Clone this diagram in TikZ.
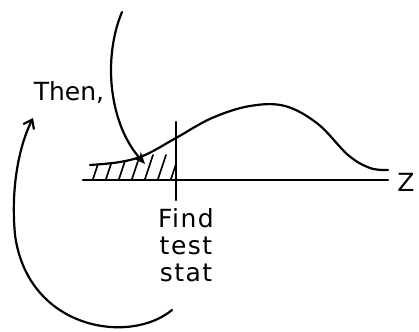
\documentclass[tikz,border=0pt]{standalone}
\usepackage{fontspec}
\setsansfont{DejaVu Sans}
\usetikzlibrary{arrows.meta}
\begin{document}
\begin{tikzpicture}[x=1pt,y=-1pt,
  ink/.style={line width=2.2pt,line cap=round,line join=round},
  hatch/.style={line width=1.6pt,line cap=round},
  lbl/.style={font=\sffamily\fontsize{25}{28}\selectfont\addfontfeatures{LetterSpace=6},inner sep=0pt},
  tlbl/.style={font=\sffamily\fontsize{25}{28}\selectfont,inner sep=0pt}]
\useasboundingbox (0,0) rectangle (419,331);
% axis
\coordinate (axL) at (83,180);
\coordinate (axR) at (388,180);
\draw[ink] (axL) -- (axR);
\node[tlbl] (z) at (406,182) {Z};
% vertical line
\coordinate (vT) at (176,122);
\coordinate (vB) at (176,200);
\draw[ink] (vT) -- (vB);
% hatching
\begin{scope}
\clip plot[smooth] coordinates {(90,165) (120,162) (145,155) (176,138)} -- (176,180) -- (90,180) -- cycle;
\foreach \x in {92,105,118,131,144,157,170}
  \draw[hatch] (\x,182) -- (\x+9,155);
\end{scope}
% curve
\draw[ink] plot[smooth,tension=0.6] coordinates {(90,165) (120,162) (145,155) (176,138) (212,118) (250,106) (285,106) (318,124) (348,155) (370,168) (388,170)};
% labels
\node[tlbl] (then) at (69,92) {Then,};
\node[lbl,align=center] (find) at (186,245) {Find\\[-1pt]test\\[-1pt]stat};
% top arrow
\coordinate (a1s) at (122,12);
\coordinate (a1e) at (145,164);
\draw[ink,-{Stealth[length=12pt,width=10pt]}] (a1s) .. controls (102,60) and (110,125) .. (a1e);
% bottom-left arrow
\coordinate (a2s) at (172,310);
\coordinate (a2e) at (33,118);
\draw[ink,-{Straight Barb[length=8pt,width=12pt]}] (a2s) .. controls (130,345) and (28,330) .. (15,235) .. controls (10,180) and (22,140) .. (a2e);
\end{tikzpicture}
\end{document}
